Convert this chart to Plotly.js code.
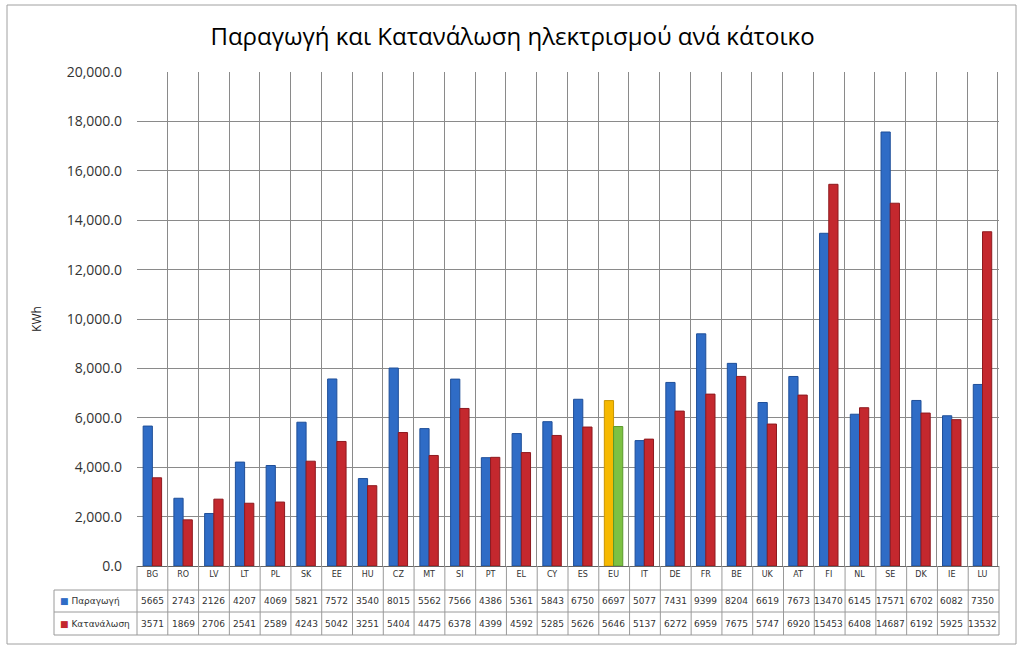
<!DOCTYPE html>
<html>
<head>
<meta charset="utf-8">
<script src="https://cdn.plot.ly/plotly-3.0.1.min.js"></script>
<style>
  html, body { margin: 0; padding: 0; background: #fff; }
  #chart { width: 1025px; height: 656px; }
</style>
</head>
<body>
<div id="chart"></div>
<script>
// Country codes (x categories)
const countries = ['BG', 'RO', 'LV', 'LT', 'PL', 'SK', 'EE', 'HU', 'CZ', 'MT', 'SI', 'PT', 'EL', 'CY', 'ES',
  'EU', 'IT', 'DE', 'FR', 'BE', 'UK', 'AT', 'FI', 'NL', 'SE', 'DK', 'IE', 'LU'];

// Production per inhabitant (KWh)
const production = [5665, 2743, 2126, 4207, 4069, 5821, 7572, 3540, 8015, 5562, 7566, 4386, 5361, 5843, 6750,
  6697, 5077, 7431, 9399, 8204, 6619, 7673, 13470, 6145, 17571, 6702, 6082, 7350];

// Consumption per inhabitant (KWh)
const consumption = [3571, 1869, 2706, 2541, 2589, 4243, 5042, 3251, 5404, 4475, 6378, 4399, 4592, 5285, 5626,
  5646, 5137, 6272, 6959, 7675, 5747, 6920, 15453, 6408, 14687, 6192, 5925, 13532];

const seriesNames = ['Παραγωγή', 'Κατανάλωση'];
const yTicks = [0, 2000, 4000, 6000, 8000, 10000, 12000, 14000, 16000, 18000, 20000];

const BLUE = '#2f6cc6';
const RED = '#c4282e';
const YELLOW = '#f6b900';
const GREEN = '#7dc143';

const prodColors = countries.map(c => c === 'EU' ? YELLOW : BLUE);
const consColors = countries.map(c => c === 'EU' ? GREEN : RED);
const prodLines = countries.map(c => c === 'EU' ? '#c99500' : '#1f4f99');
const consLines = countries.map(c => c === 'EU' ? '#5a9a2a' : '#8e1a1f');

const traces = [
  {
    type: 'bar', name: seriesNames[0], x: countries, y: production,
    marker: { color: prodColors, line: { color: prodLines, width: 1 } },
    hovertemplate: '%{x}: %{y}<extra></extra>'
  },
  {
    type: 'bar', name: seriesNames[1], x: countries, y: consumption,
    marker: { color: consColors, line: { color: consLines, width: 1 } },
    hovertemplate: '%{x}: %{y}<extra></extra>'
  }
];

// plot area in pixels: left 137, right 999, top 72, bottom 566
const plotTop = 72, plotBottom = 566, plotLeft = 137, plotRight = 999;
const ph = plotBottom - plotTop, pw = plotRight - plotLeft;
const py = p => (plotBottom - p) / ph;   // pixel y -> paper y
const pxp = p => (p - plotLeft) / pw;    // pixel x -> paper x

const rowTop = 590, rowMid = 612, rowBot = 635, labelLeft = 54;
const n = countries.length;
const lineStyle = { color: '#9a9a9a', width: 1 };

const shapes = [];
// outer frame
shapes.push({ type: 'rect', xref: 'paper', yref: 'paper', x0: pxp(7), x1: pxp(1016), y0: py(644), y1: py(5),
  line: { color: '#a0a0a0', width: 1 }, fillcolor: 'rgba(0,0,0,0)' });
// table horizontal lines
[rowTop, rowMid, rowBot].forEach(r => {
  shapes.push({ type: 'line', xref: 'paper', yref: 'paper', x0: pxp(labelLeft), x1: 1, y0: py(r), y1: py(r), line: lineStyle });
});
// table vertical lines at category boundaries
for (let i = 0; i <= n; i++) {
  shapes.push({ type: 'line', xref: 'paper', yref: 'paper', x0: i / n, x1: i / n, y0: 0, y1: py(rowBot), line: lineStyle });
}
shapes.push({ type: 'line', xref: 'paper', yref: 'paper', x0: pxp(labelLeft), x1: pxp(labelLeft), y0: py(rowTop), y1: py(rowBot), line: lineStyle });

const annotations = [];
const tableFont = { family: 'DejaVu Sans, sans-serif', size: 9, color: '#333' };
countries.forEach((c, i) => {
  annotations.push({ xref: 'x', yref: 'paper', x: c, y: py((rowTop + rowMid) / 2), text: String(production[i]),
    showarrow: false, font: tableFont, xanchor: 'center', yanchor: 'middle' });
  annotations.push({ xref: 'x', yref: 'paper', x: c, y: py((rowMid + rowBot) / 2), text: String(consumption[i]),
    showarrow: false, font: tableFont, xanchor: 'center', yanchor: 'middle' });
});
annotations.push({ xref: 'paper', yref: 'paper', x: pxp(labelLeft + 4), y: py((rowTop + rowMid) / 2),
  text: '<span style="color:' + BLUE + '">■</span> ' + seriesNames[0], showarrow: false, font: tableFont,
  xanchor: 'left', yanchor: 'middle' });
annotations.push({ xref: 'paper', yref: 'paper', x: pxp(labelLeft + 4), y: py((rowMid + rowBot) / 2),
  text: '<span style="color:' + RED + '">■</span> ' + seriesNames[1], showarrow: false, font: tableFont,
  xanchor: 'left', yanchor: 'middle' });

const layout = {
  width: 1025, height: 656,
  paper_bgcolor: '#fff', plot_bgcolor: '#fff',
  margin: { l: plotLeft, r: 1025 - plotRight, t: plotTop, b: 656 - plotBottom },
  title: {
    text: 'Παραγωγή και Κατανάλωση ηλεκτρισμού ανά κάτοικο',
    font: { family: 'Open Sans, sans-serif', size: 24, color: '#000' },
    x: 0.5, xref: 'container', xanchor: 'center', y: 1 - 37 / 656, yanchor: 'middle'
  },
  showlegend: false,
  barmode: 'group',
  bargap: 0.4,
  bargroupgap: 0,
  font: { family: 'Open Sans, sans-serif', color: '#333' },
  xaxis: {
    type: 'category',
    tickson: 'boundaries',
    showgrid: true, gridcolor: '#8a8a8a', gridwidth: 1,
    ticks: '', showline: false,
    tickfont: { family: 'DejaVu Sans, sans-serif', size: 8, color: '#333' },
    ticklabelstandoff: 2
  },
  yaxis: {
    range: [0, 20000], tickvals: yTicks, tickformat: ',.1f',
    showgrid: true, gridcolor: '#8a8a8a', gridwidth: 1,
    zeroline: true, zerolinecolor: '#666', zerolinewidth: 1,
    ticks: '', showline: false,
    tickfont: { family: 'Open Sans, sans-serif', size: 14, color: '#333' },
    ticklabelstandoff: 14,
    title: { text: 'KWh', font: { family: 'Open Sans, sans-serif', size: 12, color: '#222' }, standoff: 22 }
  },
  shapes: shapes,
  annotations: annotations
};

Plotly.newPlot('chart', traces, layout, { displayModeBar: false, responsive: false });
</script>
</body>
</html>
